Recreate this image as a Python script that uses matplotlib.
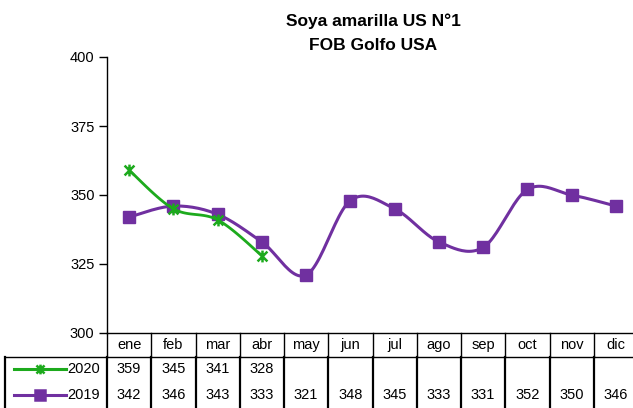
import numpy as np
import matplotlib
matplotlib.use("Agg")
import matplotlib.pyplot as plt
from matplotlib import transforms
from matplotlib.path import Path
from matplotlib.lines import Line2D

plt.rcParams['font.family'] = ['Liberation Sans', 'DejaVu Sans']

months = ["ene", "feb", "mar", "abr", "may", "jun", "jul", "ago", "sep", "oct", "nov", "dic"]
series_names = ["2020", "2019"]
vals_2020 = [359, 345, 341, 328]
vals_2019 = [342, 346, 343, 333, 321, 348, 345, 333, 331, 352, 350, 346]
yticks = [300, 325, 350, 375, 400]
title = "Soya amarilla US N°1\nFOB Golfo USA"

GREEN = "#1DAA1D"
PURPLE = "#7030A0"

star = Path([(-1, -1), (1, 1), (-1, 1), (1, -1), (0, -1.2), (0, 1.2)],
            [Path.MOVETO, Path.LINETO, Path.MOVETO, Path.LINETO, Path.MOVETO, Path.LINETO])


def smooth(xs, ys, n=24):
    p = np.column_stack([xs, ys]).astype(float)
    out = [p[0]]
    m = len(p)
    for i in range(m - 1):
        p0 = p[max(i - 1, 0)]
        p1 = p[i]
        p2 = p[i + 1]
        p3 = p[min(i + 2, m - 1)]
        c1 = p1 + (p2 - p0) / 6.0
        c2 = p2 - (p3 - p1) / 6.0
        t = np.linspace(0, 1, n)[1:, None]
        seg = ((1 - t) ** 3) * p1 + 3 * ((1 - t) ** 2) * t * c1 + 3 * (1 - t) * t ** 2 * c2 + t ** 3 * p2
        out.extend(seg)
    out = np.array(out)
    return out[:, 0], out[:, 1]


W, H = 633, 408
fig = plt.figure(figsize=(W / 100, H / 100), dpi=100)
ax_l, ax_r, ax_t, ax_b = 107, 638, 57, 333
ax = fig.add_axes([ax_l / W, (H - ax_b) / H, (ax_r - ax_l) / W, (ax_b - ax_t) / H])
ax.set_xlim(-0.5, len(months) - 0.5)
ax.set_ylim(yticks[0], yticks[-1])
for s in ["top", "right"]:
    ax.spines[s].set_visible(False)
ax.spines["left"].set_linewidth(1.0)
ax.spines["bottom"].set_linewidth(1.0)
ax.set_yticks(yticks)
ax.set_xticks([])
ax.tick_params(axis="y", direction="out", length=6, width=1, labelsize=10.5, pad=3)

x19 = np.arange(len(vals_2019))
x20 = np.arange(len(vals_2020))
sx, sy = smooth(x19, vals_2019)
ax.plot(sx, sy, color=PURPLE, lw=2.2, solid_capstyle="round", zorder=3)
ax.plot(x19, vals_2019, ls="none", marker="s", ms=8, color=PURPLE, zorder=4)
sx, sy = smooth(x20, vals_2020)
ax.plot(sx, sy, color=GREEN, lw=2.0, solid_capstyle="round", zorder=5)
ax.plot(x20, vals_2020, ls="none", marker=star, ms=8.5, mew=1.8, color=GREEN, zorder=6)

fig.text(373 / W, 1 - 21 / H, title.split("\n")[0], ha="center", va="center", fontsize=12.5,
         fontweight="bold")
fig.text(373 / W, 1 - 45 / H, title.split("\n")[1], ha="center", va="center", fontsize=12.5,
         fontweight="bold")

# ---- data table ----
tr = transforms.blended_transform_factory(ax.transData, ax.transAxes)
axh = ax_b - ax_t
pxw = (ax_r - ax_l) / len(months)


def px2x(px):
    return -0.5 + (px - ax_l) / pxw


def py2y(py):
    return -(py - ax_b) / axh


hdr_bot = py2y(357)
bottom = py2y(420)
r2020 = py2y(369)
r2019 = py2y(395)

lines = []
for k in range(len(months) + 1):
    lines.append(Line2D([k - 0.5, k - 0.5], [0, hdr_bot], lw=1.0, color="black"))
    lines.append(Line2D([k - 0.5, k - 0.5], [hdr_bot, bottom], lw=1.6, color="black"))
lines.append(Line2D([px2x(5), len(months) + 1], [hdr_bot, hdr_bot], lw=1.0, color="black"))
lines.append(Line2D([px2x(5), px2x(5)], [hdr_bot, bottom], lw=1.6, color="black"))
for ln in lines:
    ln.set_transform(tr)
    ln.set_clip_on(False)
    ax.add_line(ln)

for i, m in enumerate(months):
    ax.text(i, py2y(345), m, transform=tr, ha="center", va="center", fontsize=10.5, clip_on=False)
for i, v in enumerate(vals_2020):
    ax.text(i, r2020, str(v), transform=tr, ha="center", va="center", fontsize=10.5, clip_on=False)
for i, v in enumerate(vals_2019):
    ax.text(i, r2019, str(v), transform=tr, ha="center", va="center", fontsize=10.5, clip_on=False)

for name, yy, col, mk, ms in [(series_names[0], r2020, GREEN, star, 7),
                              (series_names[1], r2019, PURPLE, "s", 7.5)]:
    ln = Line2D([px2x(14), px2x(66)], [yy, yy], lw=2.2, color=col, transform=tr, clip_on=False)
    ax.add_line(ln)
    mkl = Line2D([px2x(40)], [yy], ls="none", marker=mk, ms=ms, mew=1.8, color=col,
                 transform=tr, clip_on=False)
    ax.add_line(mkl)
    ax.text(px2x(100), yy, name, transform=tr, ha="right", va="center", fontsize=10.5, clip_on=False)

fig.savefig("out.png", dpi=100)
